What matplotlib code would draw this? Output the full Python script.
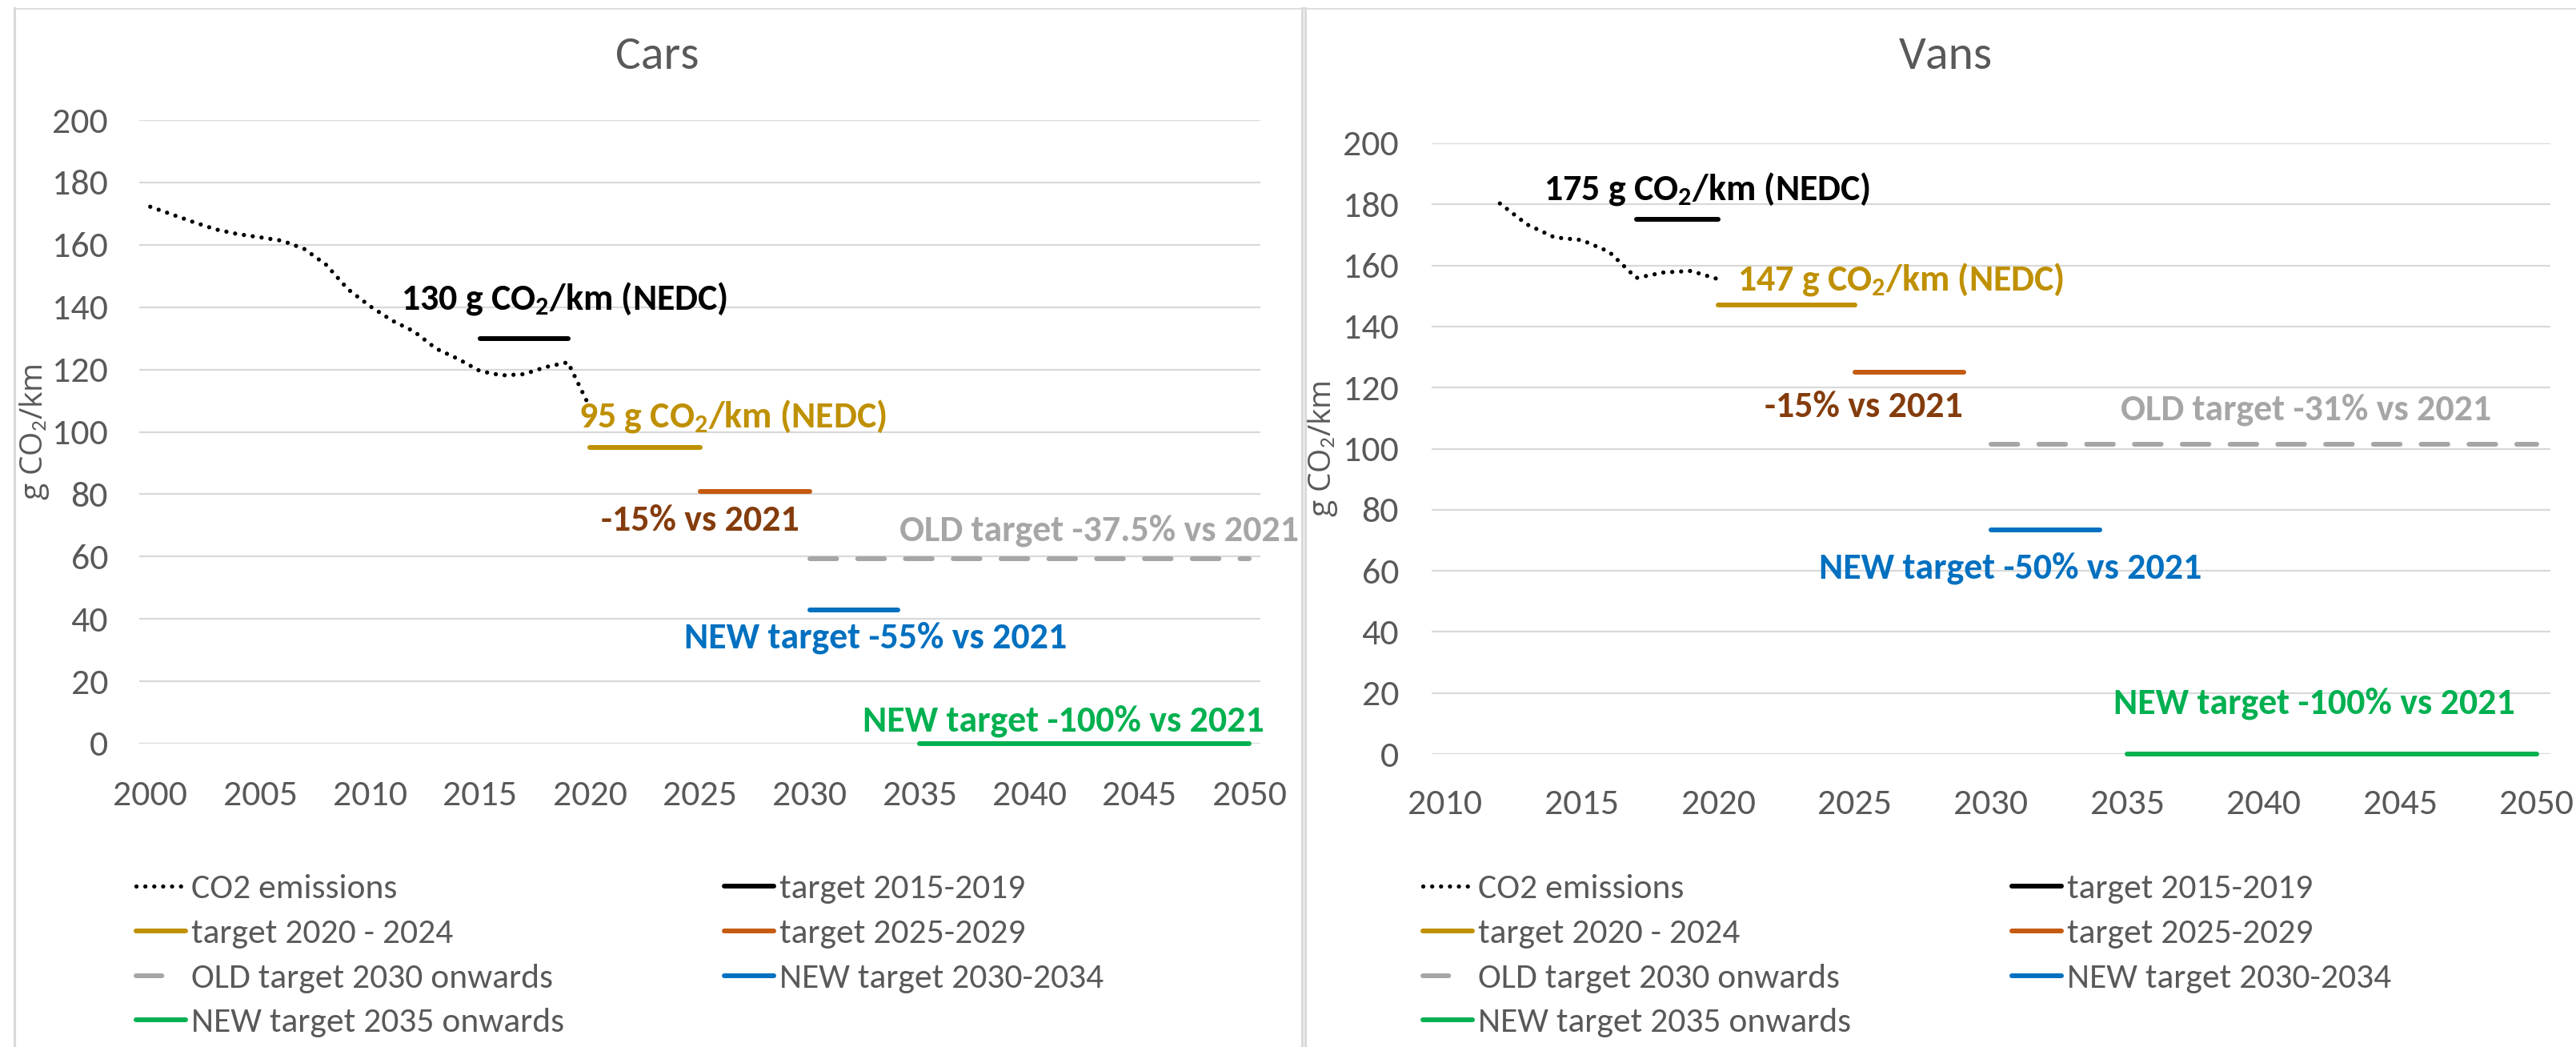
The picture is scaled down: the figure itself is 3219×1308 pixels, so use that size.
import matplotlib
matplotlib.use("Agg")
import matplotlib.pyplot as plt
from matplotlib import font_manager
from matplotlib.lines import Line2D

# ---------------- data ----------------
cars_years = [2000, 2001, 2002, 2003, 2004, 2005, 2006, 2007, 2008, 2009, 2010,
              2011, 2012, 2013, 2014, 2015, 2016, 2017, 2018, 2019, 2020]
cars_co2 = [172.2, 169.7, 167.2, 164.9, 163.4, 162.4, 161.3, 158.7, 153.6, 145.7, 140.3,
            135.7, 132.2, 126.7, 123.4, 119.5, 118.1, 118.5, 120.8, 122.3, 107.8]

vans_years = [2012, 2013, 2014, 2015, 2016, 2017, 2018, 2019, 2020]
vans_co2 = [180.3, 173.4, 169.2, 168.3, 164.5, 155.9, 157.7, 158.2, 155.5]

target_labels = ["target 2015-2019", "target 2020 - 2024", "target 2025-2029",
                 "OLD target 2030 onwards", "NEW target 2030-2034", "NEW target 2035 onwards"]
cars_target_start = [2015, 2020, 2025, 2030, 2030, 2035]
cars_target_end = [2019, 2025, 2030, 2050, 2034, 2050]
cars_target_value = [130, 95, 80.75, 59.4, 42.75, 0]

vans_target_start = [2017, 2020, 2025, 2030, 2030, 2035]
vans_target_end = [2020, 2025, 2029, 2050, 2034, 2050]
vans_target_value = [175, 147, 124.95, 101.4, 73.5, 0]

cars_notes = ["130 g CO$_\\mathbf{2}$/km (NEDC)", "95 g CO$_\\mathbf{2}$/km (NEDC)", "-15% vs 2021",
              "OLD target -37.5% vs 2021", "NEW target -55% vs 2021", "NEW target -100% vs 2021"]
vans_notes = ["175 g CO$_\\mathbf{2}$/km (NEDC)", "147 g CO$_\\mathbf{2}$/km (NEDC)", "-15% vs 2021",
              "OLD target -31% vs 2021", "NEW target -50% vs 2021", "NEW target -100% vs 2021"]

# ---------------- style ----------------
available = {f.name for f in font_manager.fontManager.ttflist}
FONT, RATIO = None, 0.714
for cand, ratio in [("Carlito", 0.632), ("Liberation Sans Narrow", 0.716),
                    ("Noto Sans Condensed", 0.714), ("Roboto Condensed", 0.711),
                    ("Open Sans Condensed", 0.714), ("DejaVu Sans Condensed", 0.729)]:
    if cand in available:
        FONT, RATIO = cand, ratio
        break
if FONT is None:
    FONT = "Open Sans" if "Open Sans" in available else "DejaVu Sans"
    FS = 28
else:
    FS = round(29 / RATIO * 0.72, 1)
LFS = round(FS * 0.95, 1)
YFONT = "Open Sans" if "Open Sans" in available else FONT

plt.rcParams["font.family"] = [FONT, "DejaVu Sans"]
plt.rcParams["mathtext.fontset"] = "custom"
plt.rcParams["mathtext.rm"] = FONT
plt.rcParams["mathtext.it"] = FONT
plt.rcParams["mathtext.bf"] = FONT + ":bold"

TXT = "#595959"
GRID = "#D9D9D9"
line_colors = ["#000000", "#BF9000", "#C55A11", "#A6A6A6", "#0070C0", "#00B050"]
note_colors = ["#000000", "#BF9000", "#843C0C", "#A6A6A6", "#0070C0", "#00B050"]

W, H = 3219, 1308
fig = plt.figure(figsize=(W / 100, H / 100), dpi=100)


def rect(x0, y0, x1, y1):
    return [x0 / W, 1 - y1 / H, (x1 - x0) / W, (y1 - y0) / H]


# panel borders
for xs, ys, lw in [([18, 18], [10, 1310], 2.2), ([18, 3230], [10.5, 10.5], 1.2),
                   ([1627, 1627], [10, 1310], 2.2), ([1631, 1631], [10, 1310], 2.2)]:
    fig.add_artist(Line2D([x / W for x in xs], [1 - y / H for y in ys], color=GRID, lw=lw,
                          transform=fig.transFigure))

ax1 = fig.add_axes(rect(174, 150, 1575, 929))
ax2 = fig.add_axes(rect(1789, 179, 3187, 942))

DOT = dict(color="black", lw=3.8, linestyle=(0, (0.01, 2.1)), dash_capstyle="round")
DASH = dict(color=line_colors[3], lw=4.3, dash_capstyle="round")


def panel(ax, years, co2, t_start, t_end, t_val, xlim, xticks, notes, note_pos, title, title_xy,
          ylabel_x, xpad, ypad):
    ax.set_xlim(*xlim)
    ax.set_ylim(0, 200)
    for s in ax.spines.values():
        s.set_visible(False)
    ax.set_yticks(range(0, 201, 20))
    ax.set_xticks(xticks)
    ax.yaxis.grid(True, color=GRID, lw=1.6)
    ax.set_axisbelow(True)
    ax.tick_params(axis="both", length=0, labelsize=FS, labelcolor=TXT)
    ax.tick_params(axis="x", pad=xpad)
    ax.tick_params(axis="y", pad=ypad)

    handles = {}
    ax.plot(years, co2, zorder=3, **DOT)
    handles["CO2 emissions"] = Line2D([], [], **DOT)
    for i in range(len(t_val)):
        if i == 3:
            ax.plot([t_start[i], t_end[i]], [t_val[i], t_val[i]], linestyle=(0, (5.6, 4.4)),
                    clip_on=False, zorder=3, **DASH)
            handles[target_labels[i]] = Line2D([], [], linestyle=(0, (5.4, 20)), **DASH)
        else:
            h, = ax.plot([t_start[i], t_end[i]], [t_val[i], t_val[i]], color=line_colors[i], lw=4.3,
                         solid_capstyle="round", clip_on=False, zorder=3)
            handles[target_labels[i]] = h
    for i, txt in enumerate(notes):
        ax.text(note_pos[i][0], note_pos[i][1], txt, color=note_colors[i], fontsize=FS,
                fontweight="bold", ha="left", va="center")
    ax.text(ylabel_x, 0.5, "g CO$_2$/km", transform=ax.transAxes, rotation=90, ha="center",
            va="center", rotation_mode="anchor", fontsize=28, color=TXT,
            family=[YFONT, "DejaVu Sans"])
    fig.text(title_xy[0] / W, 1 - title_xy[1] / H, title, ha="center", va="center",
             fontsize=round(FS * 1.3, 1), color=TXT)
    return handles


cars_note_pos = [(2011.4, 142.8), (2019.5, 105), (2020.5, 71.6), (2034.1, 68.3),
                 (2024.3, 33.9), (2032.4, 7.2)]
vans_note_pos = [(2013.6, 185), (2020.7, 155.5), (2021.7, 113.7), (2034.75, 112.7),
                 (2023.7, 60.8), (2034.5, 16.5)]

hd1 = panel(ax1, cars_years, cars_co2, cars_target_start, cars_target_end, cars_target_value,
            (1999.5, 2050.5), list(range(2000, 2051, 5)), cars_notes, cars_note_pos, "Cars",
            (821, 71), -0.0935, 33, 28)
hd2 = panel(ax2, vans_years, vans_co2, vans_target_start, vans_target_end, vans_target_value,
            (2009.5, 2050.5), list(range(2010, 2051, 5)), vans_notes, vans_note_pos, "Vans",
            (2431, 71), -0.0975, 32, 29.5)

col1 = ["CO2 emissions", "target 2020 - 2024", "OLD target 2030 onwards", "NEW target 2035 onwards"]
col2 = ["target 2015-2019", "target 2025-2029", "NEW target 2030-2034"]


def add_legend(handles, names, x, y):
    leg = fig.legend([handles[n] for n in names], names, loc="upper left",
                     bbox_to_anchor=(x / W, 1 - y / H), bbox_transform=fig.transFigure,
                     frameon=False, fontsize=LFS, handlelength=62 / (LFS / 0.72),
                     handletextpad=0.15, labelspacing=0.42, borderpad=0, borderaxespad=0)
    for t in leg.get_texts():
        t.set_color(TXT)
    return leg


add_legend(hd1, col1, 170, 1092)
add_legend(hd1, col2, 905, 1092)
add_legend(hd2, col1, 1778, 1092)
add_legend(hd2, col2, 2514, 1092)

fig.savefig("out.png", dpi=100, facecolor="white")
